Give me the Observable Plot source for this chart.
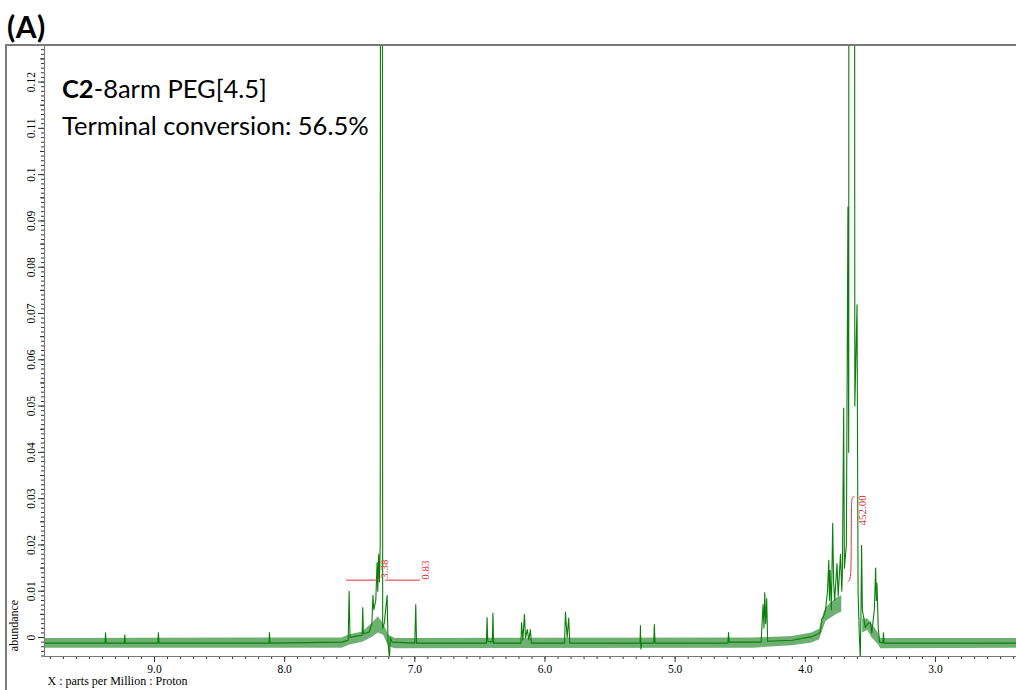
<!DOCTYPE html>
<html><head><meta charset="utf-8">
<script src="https://cdn.jsdelivr.net/npm/d3@7"></script>
<script src="https://cdn.jsdelivr.net/npm/@observablehq/plot@0.6"></script>
<style>
body{margin:0;background:#fff;width:1016px;height:690px;overflow:hidden;position:relative}
#chart{position:absolute;left:0;top:0}
#panel{position:absolute;left:7px;top:11px;font:bold 30px Lato,sans-serif;color:#000;line-height:1;letter-spacing:0.5px}
#frame{position:absolute;left:5px;top:44px;width:1100px;height:700px;border-left:2px solid #7a7a7a;border-top:2px solid #7a7a7a;}
.note{position:absolute;left:62px;font:25.5px Lato,sans-serif;color:#000;line-height:1;white-space:nowrap}
</style></head><body>
<div id="frame"></div>
<div id="chart"></div>
<div id="panel">(A)</div>
<div class="note" style="top:76px"><b>C2</b>-8arm PEG[4.5]</div>
<div class="note" style="top:113px">Terminal conversion: 56.5%</div>
<script>
// ---- data (ppm, abundance) ----
const spectrum = [
 [9.845,-0.0012],[9.38,-0.0012],[9.376,0.0010],[9.372,-0.0012],
 [9.232,-0.0012],[9.228,0.0006],[9.224,-0.0012],
 [8.975,-0.0012],[8.970,0.0010],[8.965,-0.0012],
 [8.120,-0.0012],[8.117,0.0011],[8.113,-0.0012],
 [7.560,-0.0010],[7.512,-0.0006],[7.505,0.0100],[7.498,0.0000],
 [7.450,0.0003],[7.405,0.0005],[7.400,0.0065],[7.395,0.0008],
 [7.350,0.0012],[7.330,0.0030],[7.322,0.0091],[7.315,0.0060],
 [7.300,0.0080],[7.290,0.0162],[7.285,0.0100],[7.278,0.0180],[7.272,0.0120],
 [7.266,0.0200],[7.262,0.3000],[7.252,0.3000],[7.247,0.0020],
 [7.235,0.0030],[7.213,0.0091],[7.206,-0.0010],[7.195,-0.0045],[7.188,0.0000],[7.175,-0.0010],
 [7.000,-0.0012],[6.993,0.0071],[6.987,-0.0012],
 [6.450,-0.0012],[6.445,0.0043],[6.440,-0.0008],[6.405,-0.0010],[6.400,0.0053],[6.395,-0.0012],
 [6.185,-0.0012],[6.180,0.0032],[6.170,-0.0005],[6.158,0.0050],[6.150,0.0000],[6.136,0.0017],
 [6.125,-0.0005],[6.112,0.0017],[6.105,-0.0012],
 [5.850,-0.0012],[5.843,0.0055],[5.830,0.0000],[5.818,0.0042],[5.810,-0.0012],
 [5.270,-0.0012],[5.267,0.0026],[5.263,-0.0025],[5.258,-0.0012],
 [5.165,-0.0012],[5.160,0.0028],[5.155,-0.0012],
 [4.595,-0.0012],[4.590,0.0011],[4.585,-0.0010],
 [4.340,-0.0010],[4.325,0.0071],[4.318,0.0020],[4.312,0.0097],[4.305,0.0030],[4.297,0.0084],[4.290,-0.0008],
 [4.100,-0.0006],[3.950,0.0002],[3.900,0.0008],[3.885,0.0012],[3.875,0.0040],[3.860,0.0045],[3.845,0.0060],
 [3.830,0.0100],[3.820,0.0167],[3.815,0.0080],[3.810,0.0145],[3.800,0.0060],[3.790,0.0247],[3.783,0.0120],
 [3.775,0.0080],[3.757,0.0160],[3.748,0.0090],[3.730,0.0180],[3.720,0.0100],[3.715,0.0150],
 [3.706,0.0496],[3.700,0.0150],[3.685,0.0200],[3.673,0.0930],[3.667,0.0400],
 [3.661,0.6000],[3.650,0.3000],[3.640,0.6000],[3.629,0.6000],[3.620,0.0500],[3.603,0.0719],[3.595,0.0100],
 [3.585,0.0000],[3.578,-0.0045],[3.573,0.0050],[3.568,0.0199],[3.562,0.0060],[3.550,0.0040],
 [3.540,0.0022],[3.520,0.0030],[3.500,0.0033],[3.490,0.0010],[3.470,0.0060],[3.460,0.0150],
 [3.455,0.0080],[3.450,0.0117],[3.440,0.0020],[3.430,-0.0010],[3.405,-0.0012],[3.400,0.0010],[3.395,-0.0012],
 [2.378,-0.0012]
];
// noise band envelope (ppm, low, high)
const noiseBand = [
 [9.845,-0.0023,-0.0002],[7.560,-0.0023,-0.0001],[7.500,-0.0016,0.0006],[7.400,-0.0010,0.0012],
 [7.330,0.0000,0.0030],[7.280,0.0010,0.0045],[7.240,0.0005,0.0030],[7.200,-0.0020,0.0005],
 [7.150,-0.0024,-0.0002],[4.400,-0.0023,-0.0001],[4.100,-0.0018,0.0002],[3.950,-0.0012,0.0010],
 [3.890,-0.0005,0.0018],[3.860,0.0020,0.0050],[3.840,0.0035,0.0065],[3.760,0.0050,0.0085],[3.720,0.0055,0.0090],
 [3.715,NaN,NaN],[3.565,NaN,NaN],
 [3.560,0.0010,0.0040],[3.520,0.0015,0.0040],[3.490,0.0000,0.0030],[3.440,-0.0015,0.0010],
 [3.420,-0.0024,-0.0002],[2.378,-0.0023,-0.0002]
];
// integral traces (ppm, abundance) and their values
const integralA = [[7.525,0.0124],[7.290,0.0124],[7.280,0.0127]];
const integralB = [[7.226,0.0124],[6.965,0.0124]];
const integralC = [[3.672,0.0121],[3.660,0.0124],[3.652,0.0132],[3.648,0.0160],[3.647,0.0280],[3.643,0.0300],[3.636,0.0304],[3.625,0.0305]];
const integralLabels = [
 {ppm:7.233,v:0.0127,text:"3.38"},
 {ppm:6.919,v:0.0125,text:"0.83"},
 {ppm:3.563,v:0.0242,text:"452.00"}
];
const xTicks = [9,8,7,6,5,4,3];
const xTickLabels = ["9.0","8.0","7.0","6.0","5.0","4.0","3.0"];
const xMinor = d3.range(24,99).map(d=>d/10);
const yTicks = [0,0.01,0.02,0.03,0.04,0.05,0.06,0.07,0.08,0.09,0.1,0.11,0.12];
const yTickLabels = ["0","0.01","0.02","0.03","0.04","0.05","0.06","0.07","0.08","0.09","0.1","0.11","0.12"];
const yMinor = d3.range(-4,128).map(d=>d/1000);
const yMid = d3.range(0,13).map(d=>d/100+0.005);

const green = "#0b7e0b", red = "#dc3535";
const spec = spectrum.map(([ppm,v])=>({ppm,v}));
const band = noiseBand.map(([ppm,lo,hi])=>({ppm,lo,hi}));
const toObj = a=>a.map(([ppm,v])=>({ppm,v}));

const plot = Plot.plot({
  width:1016, height:690,
  marginLeft:44, marginRight:0, marginTop:45, marginBottom:34,
  x:{domain:[9.845,2.378], label:null},
  y:{domain:[-0.0041,0.1279], label:null},
  style:{fontFamily:"'Liberation Serif',serif",fontSize:"11.5px",background:"transparent",color:"#000"},
  marks:[
    Plot.areaY(band,{x:"ppm",y1:"lo",y2:"hi",fill:"#35923a",fillOpacity:0.72,clip:true}),
    Plot.line(spec,{x:"ppm",y:"v",stroke:green,strokeWidth:1.1,clip:true}),
    Plot.line(toObj(integralA),{x:"ppm",y:"v",stroke:red,strokeWidth:1}),
    Plot.line(toObj(integralB),{x:"ppm",y:"v",stroke:red,strokeWidth:1}),
    Plot.line(toObj(integralC),{x:"ppm",y:"v",stroke:red,strokeWidth:1,curve:"basis"}),
    Plot.text(integralLabels,{x:"ppm",y:"v",text:"text",rotate:-90,textAnchor:"start",fill:red,fontSize:11}),
    Plot.axisY(yMinor,{tickSize:3,tickFormat:()=>"",stroke:"#333",label:null}),
    Plot.axisY(yMid,{tickSize:4,tickFormat:()=>"",stroke:"#333",label:null}),
    Plot.axisY(yTicks,{tickSize:6,tickFormat:()=>"",stroke:"#333",label:null}),
    Plot.text(yTicks,{y:d=>d,frameAnchor:"left",dx:-13,rotate:-90,textAnchor:"middle",text:(d,i)=>yTickLabels[i],fontSize:11.5}),
    Plot.axisX(xMinor,{tickSize:3,tickFormat:()=>"",stroke:"#333",label:null}),
    Plot.axisX(xTicks,{tickSize:6,tickPadding:2,tickFormat:d=>xTickLabels[xTicks.indexOf(d)],stroke:"#333",label:null}),
    Plot.frame({stroke:"#777"}),
    Plot.text(["X : parts per Million : Proton"],{frameAnchor:"bottom-left",dx:3,dy:28,textAnchor:"start",fontSize:12}),
    Plot.text(["abundance"],{frameAnchor:"bottom-left",dx:-27,dy:-31,rotate:-90,textAnchor:"middle",fontSize:12})
  ]
});
document.getElementById("chart").appendChild(plot);
</script>
</body></html>
